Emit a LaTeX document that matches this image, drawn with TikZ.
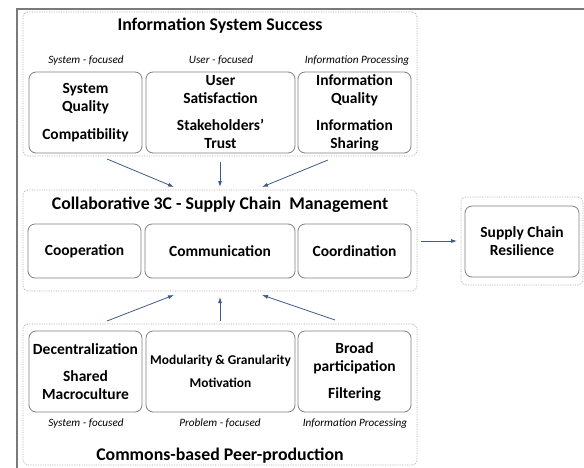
\documentclass[tikz,border=0pt]{standalone}
\usepackage{fontspec}
\setmainfont{Carlito}
\usetikzlibrary{arrows.meta}
\definecolor{framegray}{HTML}{7A7A7A}
\definecolor{boxgray}{HTML}{808080}
\definecolor{dotgray}{HTML}{A8A8A8}
\definecolor{arrowblue}{HTML}{3F5A8C}
\tikzset{
  group/.style={draw=dotgray, densely dotted, line width=0.7pt, rounded corners=5pt,
    inner sep=0pt, outer sep=0pt},
  item/.style={draw=boxgray, line width=0.8pt, rounded corners=7pt, fill=white,
    align=center, font=\fontsize{15.5}{18}\selectfont\bfseries, inner sep=0pt},
  title/.style={font=\fontsize{17.8}{20}\selectfont\bfseries, anchor=base},
  tag/.style={font=\fontsize{11.2}{13}\selectfont\itshape, anchor=base},
  link/.style={draw=arrowblue, line width=0.8pt, -{Latex[length=6pt,width=4pt]}},
}
\begin{document}
\begin{tikzpicture}[x=1pt,y=-1pt]
\useasboundingbox (0,0) rectangle (584,467);
% outer frame
\draw[framegray, line width=2pt] (17,470) -- (17,9) -- (590,9);

% Information System Success
\node[group, minimum width=394pt, minimum height=144pt] (iss) at (220,84) {};
\node[title] (isst) at (220,30) {Information System Success};
\node[tag] (isl1) at (86,63) {System - focused};
\node[tag] (isl2) at (221,63) {User - focused};
\node[tag] (isl3) at (357,63) {Information Processing};
\node[item, minimum width=113pt, minimum height=81pt] (sq) at (85.5,112.5)
  {System\\Quality\\[10pt]Compatibility};
\node[item, minimum width=149pt, minimum height=81pt] (us) at (220.5,112.5)
  {User\\Satisfaction\\[9pt]Stakeholders’\\Trust};
\node[item, minimum width=113pt, minimum height=81pt] (iq) at (354.5,112.5)
  {Information\\Quality\\[9pt]Information\\Sharing};

% Collaborative 3C - Supply Chain Management
\node[group, minimum width=394pt, minimum height=101pt] (scm) at (220,240.5) {};
\node[title] (scmt) at (220,209) {Collaborative 3C - Supply Chain\ \ Management};
\node[item, minimum width=113pt, minimum height=54pt] (coop) at (84.5,251) {Cooperation};
\node[item, minimum width=150pt, minimum height=54pt] (comm) at (220,251) {Communication};
\node[item, minimum width=113pt, minimum height=54pt] (coord) at (354.5,251) {Coordination};

% Supply Chain Resilience
\node[group, minimum width=122pt, minimum height=88pt] (scrg) at (522,241) {};
\node[item, minimum width=114pt, minimum height=71pt] (scr) at (522,241.5)
  {Supply Chain\\Resilience};

% Commons-based Peer-production
\node[group, minimum width=394pt, minimum height=141pt] (cbpp) at (220,394.5) {};
\node[title] (cbppt) at (220,460) {Commons-based Peer-production};
\node[tag] (cbl1) at (86,426) {System - focused};
\node[tag] (cbl2) at (220,426) {Problem - focused};
\node[tag] (cbl3) at (355,426) {Information Processing};
\node[item, minimum width=113pt, minimum height=81pt] (dec) at (85.5,371.5)
  {Decentralization\\[9pt]Shared\\Macroculture};
\node[item, minimum width=149pt, minimum height=81pt,
  font=\fontsize{13.4}{18}\selectfont\bfseries] (mod) at (220.5,371.5)
  {Modularity \& Granularity\\[5pt]Motivation};
\node[item, minimum width=113pt, minimum height=81pt] (bp) at (354.5,371.5)
  {Broad\\participation\\[9pt]Filtering};

% connector end points
\coordinate (t1) at (107,159);
\coordinate (t2) at (220,162);
\coordinate (t3) at (328,160);
\coordinate (m1) at (174,187);
\coordinate (m2) at (220,187);
\coordinate (m3) at (262,187);
\coordinate (b1) at (107,321);
\coordinate (b2) at (220,321);
\coordinate (b3) at (335,320);
\coordinate (n1) at (174,295);
\coordinate (n2) at (220,297);
\coordinate (n3) at (262,295);
\coordinate (r1) at (421,241);
\coordinate (r2) at (457,241);

\draw[link] (t1) -- (m1);
\draw[link] (t2) -- (m2);
\draw[link] (t3) -- (m3);
\draw[link] (b1) -- (n1);
\draw[link] (b2) -- (n2);
\draw[link] (b3) -- (n3);
\draw[link] (r1) -- (r2);
\end{tikzpicture}
\end{document}
